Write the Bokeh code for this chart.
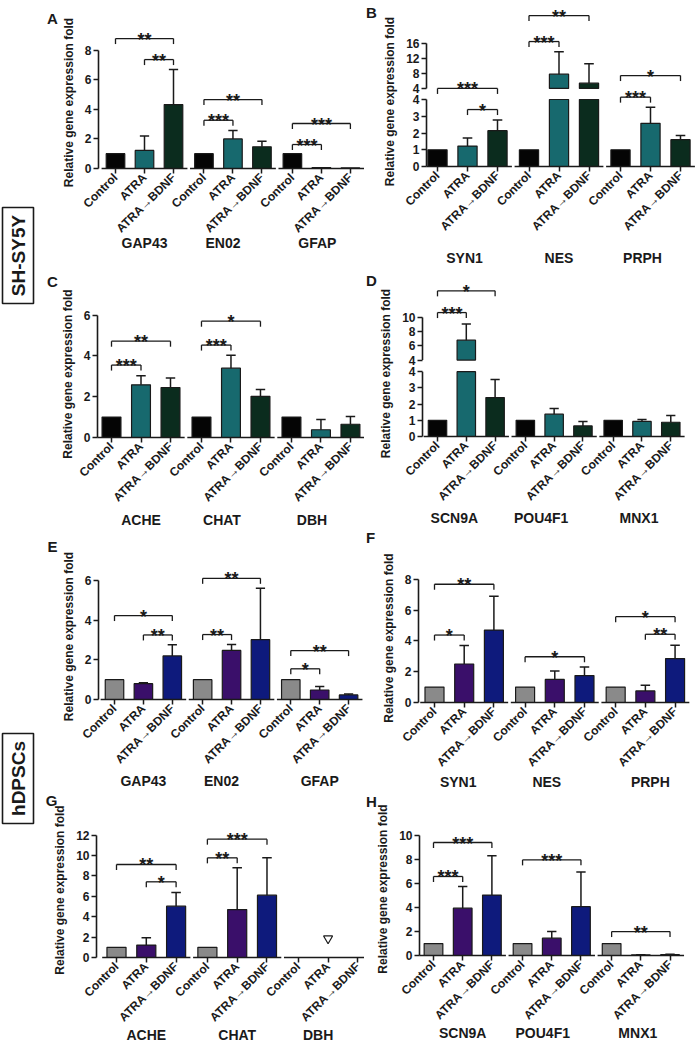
import math
from bokeh.plotting import figure
from bokeh.models import FixedTicker, Range1d
from bokeh.layouts import row, column
from bokeh.embed import file_html
from bokeh.resources import INLINE
from bokeh.core.properties import value

FONT = "Liberation Sans"
INK = "#1a1a1a"
conditions = ["Control", "ATRA", "ATRA→BDNF"]
ytitle = "Relative gene expression fold"

sh_colors = ["#050505", "#17696e", "#0b2c1e"]
dp_colors = ["#8a8a8a", "#3a0f6a", "#0e1a7c"]

# ---------------- SH-SY5Y ----------------
A_genes = ["GAP43", "EN02", "GFAP"]
A_mean = [[1, 1.22, 4.32], [1, 2.0, 1.47], [1, 0.06, 0.04]]
A_sd = [[0, 0.98, 2.37], [0, 0.57, 0.37], [0, 0, 0]]
A_sig = [(0, 0, 2, 8.78, "**"), (0, 1, 2, 7.36, "**"), (1, 0, 2, 4.66, "**"),
         (1, 0, 1, 3.26, "***"), (2, 0, 2, 3.04, "***"), (2, 0, 1, 1.62, "***")]
A_ticks = [0, 2, 4, 6, 8]

B_genes = ["SYN1", "NES", "PRPH"]
B_mean = [[1, 1.22, 2.14], [1, 7.8, 5.4], [1, 2.58, 1.6]]
B_sd = [[0, 0.48, 0.63], [0, 6.0, 5.2], [0, 0.95, 0.25]]
B_sig = [(0, 0, 2, 4.66, "***"), (0, 1, 2, 3.40, "*"), (1, 0, 2, 9.01, "**"),
         (1, 0, 1, 7.46, "***"), (2, 0, 2, 5.43, "*"), (2, 0, 1, 4.14, "***")]
B_ticks_low = [0, 1, 2, 3, 4]
B_ticks_up = [4, 8, 12, 16]

C_genes = ["ACHE", "CHAT", "DBH"]
C_mean = [[1, 2.58, 2.45], [1, 3.4, 2.02], [1, 0.38, 0.65]]
C_sd = [[0, 0.45, 0.47], [0, 0.63, 0.33], [0, 0.5, 0.38]]
C_sig = [(0, 0, 1, 3.55, "***"), (0, 0, 2, 4.72, "**"), (1, 0, 1, 4.53, "***"), (1, 0, 2, 5.7, "*")]
C_ticks = [0, 2, 4, 6]

D_genes = ["SCN9A", "POU4F1", "MNX1"]
D_mean = [[1, 6.8, 2.4], [1, 1.38, 0.65], [1, 0.93, 0.88]]
D_sd = [[0, 2.27, 1.12], [0, 0.35, 0.27], [0, 0.12, 0.42]]
D_sig = [(0, 0, 1, 7.65, "***"), (0, 0, 2, 8.99, "*")]
D_ticks_low = [0, 1, 2, 3, 4]
D_ticks_up = [4, 6, 8, 10]

# ---------------- hDPSCs ----------------
E_genes = ["GAP43", "EN02", "GFAP"]
E_mean = [[1, 0.8, 2.2], [1, 2.48, 3.02], [1, 0.48, 0.23]]
E_sd = [[0, 0.05, 0.56], [0, 0.3, 2.6], [0, 0.18, 0.05]]
E_sig = [(0, 0, 2, 4.24, "*"), (0, 1, 2, 3.26, "**"), (1, 0, 2, 6.12, "**"),
         (1, 0, 1, 3.28, "**"), (2, 0, 2, 2.47, "**"), (2, 0, 1, 1.55, "*")]
E_ticks = [0, 2, 4, 6]

F_genes = ["SYN1", "NES", "PRPH"]
F_mean = [[1, 2.5, 4.7], [1, 1.5, 1.75], [1, 0.75, 2.85]]
F_sd = [[0, 1.2, 2.2], [0, 0.55, 0.55], [0, 0.37, 0.87]]
F_sig = [(0, 0, 2, 7.68, "**"), (0, 0, 1, 4.38, "*"), (1, 0, 2, 2.97, "*"),
         (2, 0, 2, 5.57, "*"), (2, 1, 2, 4.43, "**")]
F_ticks = [0, 2, 4, 6, 8]

G_genes = ["ACHE", "CHAT", "DBH"]
G_mean = [[1, 1.22, 5.03], [1, 4.7, 6.11], [0, 0, 0]]
G_sd = [[0, 0.72, 1.35], [0, 4.1, 3.66], [0, 0, 0]]
G_sig = [(0, 0, 2, 9.12, "**"), (0, 1, 2, 7.42, "*"), (1, 0, 2, 11.6, "***"), (1, 0, 1, 9.77, "**")]
G_ticks = [0, 2, 4, 6, 8, 10, 12]
G_nd = [(2, 1, 1.86)]  # not-detected marker

H_genes = ["SCN9A", "POU4F1", "MNX1"]
H_mean = [[1, 3.95, 5.05], [1, 1.45, 4.08], [1, 0.05, 0.07]]
H_sd = [[0, 1.82, 3.28], [0, 0.55, 2.9], [0, 0.02, 0.03]]
H_sig = [(0, 0, 2, 9.44, "***"), (0, 0, 1, 6.6, "***"), (1, 0, 2, 7.99, "***"), (2, 0, 2, 2.0, "**")]
H_ticks = [0, 2, 4, 6, 8, 10]

GROUP = 3.05


def xpos(g, i):
    return g * GROUP + i


def make_panel(letter, genes, mean, sd, sig, colors, geo, yticks=None, brk=None, nd=None):
    L, W, T, H = geo["L"], geo["W"], geo["T"], geo["H"]
    mbl = int(round(geo["ax"] - L))
    fw = int(round(geo["fr"] - geo["ax"]))
    mbr = W - mbl - fw
    mbt = int(round(geo["ftop"] - T))
    fh = int(round(geo["y0"] - geo["ftop"]))
    mbb = H - mbt - fh
    ppu = geo["ppu"]
    sp = geo["sp"]
    x0 = (geo["ax"] - geo["b0"]) / sp
    x1 = x0 + fw / sp
    y0 = T + mbt + fh

    if brk:
        lo_top, gap, k, t_low, t_up = brk

        def tr(v):
            return v if v <= lo_top else lo_top + gap + (v - lo_top) * k
    else:
        def tr(v):
            return v

    p = figure(frame_width=fw, frame_height=fh, min_border_left=mbl, min_border_right=mbr,
               min_border_top=mbt, min_border_bottom=mbb,
               x_range=Range1d(x0, x1), y_range=Range1d(0, fh / ppu),
               output_backend="svg", toolbar_location=None, title=None)
    p.xgrid.visible = False
    p.ygrid.visible = False
    p.outline_line_color = None
    p.background_fill_color = "white"
    p.border_fill_color = "white"

    # bars
    bx, btop, bbot, bcol = [], [], [], []
    ex, ey0, ey1 = [], [], []
    for gi in range(3):
        for i in range(3):
            m = mean[gi][i]
            if m <= 0:
                continue
            x = xpos(gi, i)
            if brk and m > lo_top:
                bx += [x, x]
                bbot += [0, lo_top + gap]
                btop += [lo_top, tr(m)]
                bcol += [colors[i], colors[i]]
            else:
                bx.append(x)
                bbot.append(0)
                btop.append(m)
                bcol.append(colors[i])
            s = sd[gi][i]
            if s > 0:
                ex.append(x)
                ey0.append(tr(m))
                ey1.append(tr(m + s))
    p.vbar(x=bx, top=btop, bottom=bbot, width=0.64, fill_color=bcol, line_color=INK, line_width=1.2)
    # error bars
    p.segment(x0=ex, y0=ey0, x1=ex, y1=ey1, line_color=INK, line_width=1.5)
    p.segment(x0=[x - 0.16 for x in ex], y0=ey1, x1=[x + 0.16 for x in ex], y1=ey1,
              line_color=INK, line_width=1.5)

    # x axis line segments per gene group
    p.segment(x0=[max(x0, xpos(g, 0) - 0.48) for g in range(3)], y0=[0, 0, 0],
              x1=[xpos(g, 2) + 0.48 for g in range(3)], y1=[0, 0, 0],
              line_color=INK, line_width=1.6, level="overlay")

    # significance brackets
    leg = 5.5 / ppu
    hx0, hx1, hy, lx, ly0, ly1, tx, ty, tt = [], [], [], [], [], [], [], [], []
    for gi, a, b, h, lab in sig:
        xa, xb = xpos(gi, a), xpos(gi, b)
        hx0.append(xa); hx1.append(xb); hy.append(h)
        lx += [xa, xb]; ly0 += [h, h]; ly1 += [h - leg, h - leg]
        tx.append((xa + xb) / 2); ty.append(h); tt.append(lab)
    p.segment(x0=hx0, y0=hy, x1=hx1, y1=hy, line_color=INK, line_width=1.3, level="overlay")
    p.segment(x0=lx, y0=ly0, x1=lx, y1=ly1, line_color=INK, line_width=1.3, level="overlay")
    p.text(x=tx, y=ty, text=tt, text_font=value(FONT), text_font_size="18px",
           text_font_style="bold", text_align="center", text_baseline="alphabetic",
           text_color=INK, y_offset=1, level="overlay")

    if nd:
        p.scatter(x=[xpos(g, i) for g, i, v in nd], y=[v for g, i, v in nd], marker="inverted_triangle",
                  size=9, fill_color=None, line_color=INK, line_width=1.2)

    # gene names under each group
    p.text(x=[xpos(g, 1) + geo["gdx"][g] / sp for g in range(3)], y=[-(geo["gy"] - y0) / ppu] * 3,
           text=genes, text_font=value(FONT), text_font_size="14px", text_font_style="bold",
           text_align="center", text_baseline="middle", text_color=INK, level="overlay")

    # panel letter
    p.text(x=[(geo["lx"] - geo["b0"]) / sp], y=[(y0 - geo["ly"]) / ppu], text=[letter],
           text_font=value(FONT), text_font_size="15px", text_font_style="bold",
           text_align="center", text_baseline="middle", text_color=INK, level="overlay")

    # x axis: condition labels
    xa_ = p.xaxis[0]
    xa_.ticker = FixedTicker(ticks=[xpos(g, i) for g in range(3) for i in range(3)])
    xa_.major_label_overrides = {xpos(g, i): conditions[i] for g in range(3) for i in range(3)}
    xa_.major_label_orientation = math.pi / 4
    xa_.major_label_text_font = FONT
    xa_.major_label_text_font_size = "12px"
    xa_.major_label_text_font_style = "bold"
    xa_.major_label_text_color = INK
    xa_.major_label_standoff = 2
    xa_.axis_line_color = None
    xa_.major_tick_out = 5
    xa_.major_tick_in = 0
    xa_.major_tick_line_width = 1.5
    xa_.major_tick_line_color = INK
    xa_.minor_tick_line_color = None

    # y axis
    ya = p.yaxis[0]
    if brk:
        ticks = list(t_low) + [tr(t) + (gap if t == lo_top else 0) for t in t_up]
        labels = [str(t) for t in t_low] + [str(t) for t in t_up]
        ya.ticker = FixedTicker(ticks=ticks)
        ya.major_label_overrides = dict(zip(ticks, labels))
        ya.axis_line_color = None
        p.segment(x0=[x0, x0], y0=[0, lo_top + gap], x1=[x0, x0], y1=[lo_top, tr(t_up[-1])],
                  line_color=INK, line_width=1.6, level="overlay")
    else:
        ya.ticker = FixedTicker(ticks=yticks)
        ya.bounds = (0, yticks[-1])
        ya.axis_line_color = INK
        ya.axis_line_width = 1.6
    ya.minor_tick_line_color = None
    ya.major_tick_out = 5
    ya.major_tick_in = 0
    ya.major_tick_line_width = 1.5
    ya.major_tick_line_color = INK
    ya.major_label_text_font = FONT
    ya.major_label_text_font_size = "12px"
    ya.major_label_text_font_style = "bold"
    ya.major_label_text_color = INK
    ya.major_label_standoff = 2
    ya.axis_label = ytitle
    ya.axis_label_text_font = FONT
    ya.axis_label_text_font_size = "12px"
    ya.axis_label_text_font_style = "bold"
    ya.axis_label_text_color = INK
    ya.axis_label_standoff = 6
    return p


LCOL = dict(L=40, W=324)
RCOL = dict(L=364, W=331)

pA = make_panel("A", A_genes, A_mean, A_sd, A_sig, sh_colors,
                dict(LCOL, T=0, H=268, ax=98, fr=362, b0=115, sp=29.0, y0=163, ppu=14.8, ftop=31,
                     lx=52, ly=13, gy=237, gdx=[0, -10, -4]), yticks=A_ticks)
pB = make_panel("B", B_genes, B_mean, B_sd, B_sig, sh_colors,
                dict(RCOL, T=0, H=268, ax=426, fr=693, b0=437, sp=30.0, y0=166, ppu=16.75, ftop=36,
                     lx=371, ly=12, gy=257, gdx=[-3, 0, -8]),
                brk=(4, 0.66, 0.224, B_ticks_low, B_ticks_up))
pC = make_panel("C", C_genes, C_mean, C_sd, C_sig, sh_colors,
                dict(LCOL, T=268, H=260, ax=97, fr=362, b0=111, sp=29.5, y0=436, ppu=20.4, ftop=309,
                     lx=52, ly=280, gy=518, gdx=[0, -9, -9]), yticks=C_ticks)
pD = make_panel("D", D_genes, D_mean, D_sd, D_sig, sh_colors,
                dict(RCOL, T=268, H=260, ax=422, fr=693, b0=437, sp=28.8, y0=436, ppu=16.2, ftop=310,
                     lx=371, ly=280, gy=517, gdx=[-12, -13, -3]),
                brk=(4, 0.72, 0.438, D_ticks_low, D_ticks_up))
pE = make_panel("E", E_genes, E_mean, E_sd, E_sig, dp_colors,
                dict(LCOL, T=528, H=262, ax=98, fr=362, b0=114, sp=28.9, y0=699, ppu=19.8, ftop=573,
                     lx=52, ly=546, gy=780, gdx=[0, -10, 0]), yticks=E_ticks)
pF = make_panel("F", F_genes, F_mean, F_sd, F_sig, dp_colors,
                dict(RCOL, T=528, H=262, ax=418, fr=693, b0=434, sp=29.7, y0=701, ppu=15.4, ftop=572,
                     lx=370, ly=536, gy=780, gdx=[-6, -8, 5]), yticks=F_ticks)
pG = make_panel("G", G_genes, G_mean, G_sd, G_sig, dp_colors,
                dict(LCOL, T=790, H=252, ax=96, fr=362, b0=116, sp=29.8, y0=955, ppu=10.2, ftop=820,
                     lx=51, ly=798, gy=1032, gdx=[0, 0, -10]), yticks=G_ticks, nd=G_nd)
pH = make_panel("H", H_genes, H_mean, H_sd, H_sig, dp_colors,
                dict(RCOL, T=790, H=252, ax=419, fr=693, b0=433, sp=29.2, y0=955, ppu=11.97, ftop=822,
                     lx=371, ly=801, gy=1032, gdx=[0, -9, -3]), yticks=H_ticks)

# side labels (cell line names)
TOTAL_H = 268 + 260 + 262 + 252
side = figure(frame_width=40, frame_height=TOTAL_H, min_border=0,
              x_range=Range1d(0, 40), y_range=Range1d(-TOTAL_H, 0),
              output_backend="svg", toolbar_location=None, title=None)
side.axis.visible = False
side.xgrid.visible = False
side.ygrid.visible = False
side.outline_line_color = None
cell_lines = ["SH-SY5Y", "hDPSCs"]
box_top = [207, 733]
box_bot = [303, 823]
side.quad(left=[2, 2], right=[33, 33], top=[-t for t in box_top], bottom=[-b for b in box_bot],
          fill_color=None, line_color=INK, line_width=1.6)
side.text(x=[17.5, 17.5], y=[-(t + b) / 2 for t, b in zip(box_top, box_bot)], text=cell_lines,
          angle=math.pi / 2, text_align="center", text_baseline="middle", text_font=value(FONT),
          text_font_size="19px", text_font_style="bold", text_color=INK)

layout = row(side, column(row(pA, pB), row(pC, pD), row(pE, pF), row(pG, pH)))

open("out.html", "w").write(file_html(layout, INLINE))
